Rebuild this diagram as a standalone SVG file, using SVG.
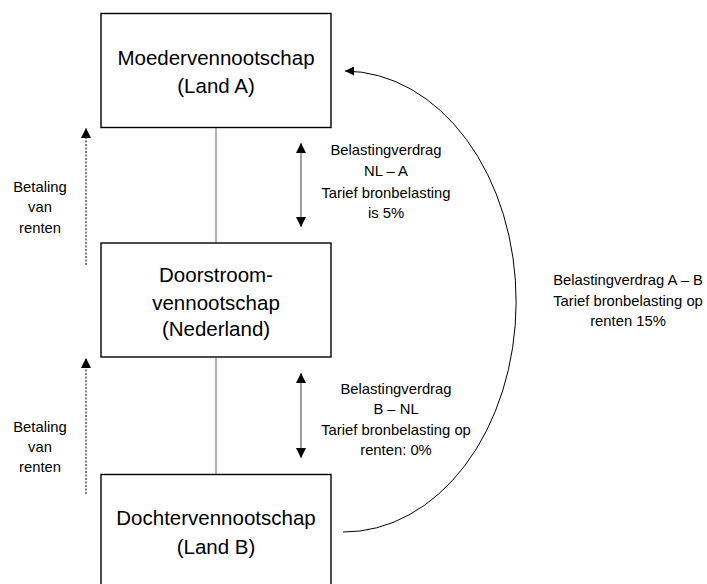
<svg xmlns="http://www.w3.org/2000/svg" width="707" height="584" viewBox="0 0 707 584">
<style>
.box{fill:#fff;stroke:#000;stroke-width:1.4}
.bt{font-family:"Liberation Sans",Arial,sans-serif;font-size:20.5px;fill:#000;text-anchor:middle}
.lt{font-family:"Liberation Sans",Arial,sans-serif;font-size:14.8px;fill:#000;text-anchor:middle}
.link{stroke:#808080;stroke-width:1.2;fill:none}
.dbl{stroke:#808080;stroke-width:1.5;fill:none;marker-start:url(#ah);marker-end:url(#ah)}
.dash{stroke:#000;stroke-width:1;stroke-dasharray:2 1.5;fill:none;marker-end:url(#ah)}
.arc{stroke:#000;stroke-width:1;fill:none;marker-end:url(#ah2)}
</style>
<defs>
<marker id="ah" viewBox="0 0 10 10" refX="10" refY="5" markerWidth="10" markerHeight="10" markerUnits="userSpaceOnUse" orient="auto-start-reverse">
<path d="M0,0 L10,5 L0,10 Z" fill="#000"/>
</marker>
<marker id="ah2" viewBox="0 0 10 10" refX="10" refY="5" markerWidth="11" markerHeight="9" markerUnits="userSpaceOnUse" orient="auto">
<path d="M0,0 L10,5 L0,10 Z" fill="#000"/>
</marker>
</defs>
<g id="connectors">
<line class="link" x1="216" y1="128" x2="216" y2="243"/>
<line class="link" x1="216" y1="357" x2="216" y2="474"/>
<line class="dbl" x1="301" y1="143" x2="301" y2="227"/>
<line class="dbl" x1="301" y1="373" x2="301" y2="458"/>
<line class="dash" x1="86" y1="265" x2="86" y2="128"/>
<line class="dash" x1="86" y1="494" x2="86" y2="358"/>
<path class="arc" d="M343,532 A171,229 0 0 0 345,71"/>
</g>
<g id="moeder">
<rect class="box" x="101" y="13.5" width="230" height="114"/>
<text class="bt" x="216" y="65">Moedervennootschap</text>
<text class="bt" x="216" y="93">(Land A)</text>
</g>
<g id="doorstroom">
<rect class="box" x="101" y="243" width="230" height="114"/>
<text class="bt" x="216" y="282">Doorstroom-</text>
<text class="bt" x="216" y="310">vennootschap</text>
<text class="bt" x="216" y="336">(Nederland)</text>
</g>
<g id="dochter">
<rect class="box" x="101" y="474.5" width="230" height="120"/>
<text class="bt" x="216" y="525">Dochtervennootschap</text>
<text class="bt" x="216" y="554">(Land B)</text>
</g>
<g id="label-betaling-1">
<text class="lt" x="40" y="192">Betaling</text>
<text class="lt" x="40" y="212">van</text>
<text class="lt" x="40" y="233">renten</text>
</g>
<g id="label-betaling-2">
<text class="lt" x="40" y="432">Betaling</text>
<text class="lt" x="40" y="452">van</text>
<text class="lt" x="40" y="472">renten</text>
</g>
<g id="label-nl-a">
<text class="lt" x="386" y="155">Belastingverdrag</text>
<text class="lt" x="386" y="176">NL – A</text>
<text class="lt" x="386" y="198">Tarief bronbelasting</text>
<text class="lt" x="386" y="218">is 5%</text>
</g>
<g id="label-b-nl">
<text class="lt" x="396" y="394">Belastingverdrag</text>
<text class="lt" x="396" y="414">B – NL</text>
<text class="lt" x="396" y="435">Tarief bronbelasting op</text>
<text class="lt" x="396" y="455">renten: 0%</text>
</g>
<g id="label-a-b">
<text class="lt" x="628" y="285">Belastingverdrag A – B</text>
<text class="lt" x="628" y="306">Tarief bronbelasting op</text>
<text class="lt" x="628" y="326">renten 15%</text>
</g>
</svg>
